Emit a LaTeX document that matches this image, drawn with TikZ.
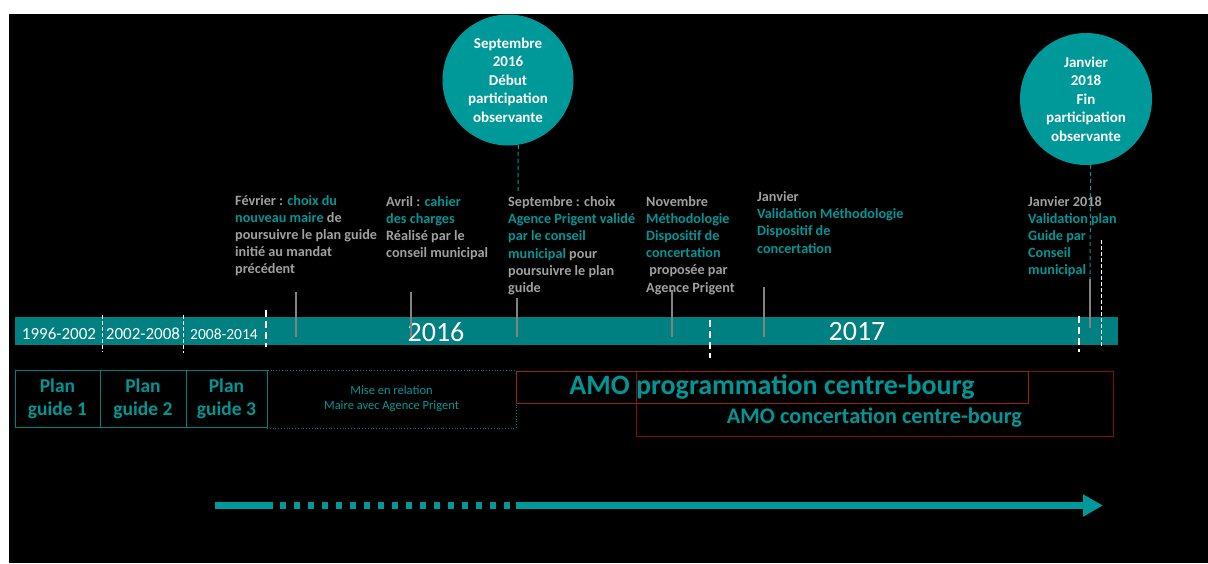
\documentclass[tikz,border=0pt]{standalone}
\usepackage{fontspec}
\setmainfont{Carlito}
\usepackage{xcolor}
\usetikzlibrary{arrows.meta}

\definecolor{barteal}{RGB}{0,128,128}
\definecolor{discteal}{RGB}{0,153,153}
\definecolor{tealtext}{RGB}{0,150,150}
\definecolor{greytext}{RGB}{160,160,160}
\definecolor{tickgrey}{RGB}{130,130,130}
\definecolor{amobrown}{RGB}{150,40,10}
\definecolor{amored}{RGB}{135,12,12}
\newcommand{\hl}[1]{\textcolor{tealtext}{#1}}

\begin{document}
\begin{tikzpicture}[x=1pt,y=-1pt,
  yearlbl/.style={anchor=base,inner sep=0pt,text=white,font=\fontsize{17}{20}\selectfont},
  septhin/.style={white,line width=1pt,dash pattern=on 4pt off 2pt},
  septhick/.style={white,line width=2.6pt,dash pattern=on 7pt off 4pt},
  tick/.style={tickgrey,line width=2pt},
  event/.style={anchor=base west,align=left,inner sep=0pt,text=greytext,font=\fontsize{14.2}{17.2}\selectfont\bfseries},
  disc/.style={circle,fill=discteal,text=white,align=center,inner sep=0pt,font=\fontsize{15}{18.6}\selectfont\bfseries},
  obsdash/.style={discteal,line width=1pt,dash pattern=on 4pt off 3pt},
  planbox/.style={draw=barteal,line width=1pt,text=tealtext,align=center,inner sep=0pt,minimum height=57pt,font=\fontsize{19.5}{23}\selectfont\bfseries},
  arrowline/.style={discteal,line width=7pt}]

% fond
\fill[white] (0,0) rectangle (1208,563);
\fill[black] (9,14) rectangle (1208,563);
\useasboundingbox (0,0) rectangle (1208,563);

% frise
\fill[barteal] (15,317) rectangle (1118,345);
\node[yearlbl] (p1996) at (59,339) {1996-2002};
\node[yearlbl] (p2002) at (143,339) {2002-2008};
\node[yearlbl,font=\fontsize{15.5}{18}\selectfont] (p2008) at (224,339) {2008-2014};
\node[yearlbl,font=\fontsize{28}{32}\selectfont] (y2016) at (436,341) {2016};
\node[yearlbl,font=\fontsize{28}{32}\selectfont] (y2017) at (857,340) {2017};

\draw[septhin] (102,315) -- (102,352);
\draw[septhin] (183,315) -- (183,353);
\draw[septhick] (266,310) -- (266,347);
\draw[septhick] (710,320) -- (710,358);
\draw[septhick] (1079,316) -- (1079,352);
\draw[septhin] (1101,240) -- (1101,347);

% jalons
\draw[tick] (296,292) -- (296,337);
\draw[tick] (411,292) -- (411,337);
\draw[tick] (517,298) -- (517,337);
\draw[tick] (672,290) -- (672,337);
\draw[tick] (764,287) -- (764,337);

% evenements (base = derniere ligne)
\node[event] (evfev) at (235,273.8) {F\'evrier : \hl{choix du}\\\hl{nouveau maire} de\\poursuivre le plan guide\\initi\'e au mandat\\pr\'ec\'edent};
\node[event] (evavr) at (386,257.6) {Avril : \hl{cahier}\\\hl{des charges}\\R\'ealis\'e par le\\conseil municipal};
\node[event] (evsep) at (508,292.5) {Septembre : choix\\\hl{Agence Prigent valid\'e}\\\hl{par le conseil}\\\hl{municipal} pour\\poursuivre le plan\\guide};
\node[event] (evnov) at (646,292) {Novembre\\\hl{M\'ethodologie}\\\hl{Dispositif de}\\\hl{concertation}\\\ propos\'ee par\\Agence Prigent};
\node[event] (evjan) at (757,253.1) {Janvier\\\hl{Validation M\'ethodologie}\\\hl{Dispositif de}\\\hl{concertation}};
\node[event] (evfin) at (1028,274.8) {Janvier 2018\\\hl{Validation plan}\\\hl{Guide par}\\\hl{Conseil}\\\hl{municipal}};

% participation observante
\node[disc,minimum size=131pt] (debut) at (508,80) {Septembre\\2016\\D\'ebut\\participation\\observante};
\node[disc,minimum size=132pt] (fin) at (1086,99) {Janvier\\2018\\Fin\\participation\\observante};
\coordinate (debutfoot) at (518,193);
\coordinate (finfoot) at (1090,279);
\draw[obsdash] (debut.-81) -- (debutfoot);
\draw[obsdash] (fin.-86) -- (finfoot);
\draw[tick] (finfoot) -- (1090,328);

% phases
\node[planbox,minimum width=85pt] (pg1) at (57.5,399) {Plan\\guide 1};
\node[planbox,minimum width=86pt] (pg2) at (143,399) {Plan\\guide 2};
\node[planbox,minimum width=81pt] (pg3) at (226.5,399) {Plan\\guide 3};
\node[draw=barteal,line width=0.8pt,dotted,minimum width=249pt,minimum height=58pt,inner sep=0pt,
  text=tealtext,align=center,font=\fontsize{12.5}{15}\selectfont] (relation) at (391.5,399) {Mise en relation\\Maire avec Agence Prigent};
\node[draw=amored,line width=1pt,minimum width=477pt,minimum height=65pt,inner sep=0pt] (concbox) at (874.5,403.5) {};
\node[inner sep=0pt,text=tealtext,font=\fontsize{22.3}{26}\selectfont\bfseries] (conc) at (874.5,417.5) {AMO concertation centre-bourg};
\node[draw=amobrown,line width=1pt,minimum width=512pt,minimum height=32pt,inner sep=0pt,
  text=tealtext,font=\fontsize{28}{32}\selectfont\bfseries] (prog) at (772,387) {AMO programmation centre-bourg};

% fleche du temps
\coordinate (a0) at (215,505.5);
\coordinate (a1) at (273,505.5);
\coordinate (a2) at (280,505.5);
\coordinate (a3) at (510,505.5);
\coordinate (a4) at (516,505.5);
\coordinate (a5) at (1103,505.5);
\draw[arrowline] (a0) -- (a1);
\draw[arrowline,dash pattern=on 6pt off 8pt] (a2) -- (a3);
\draw[arrowline,-{Triangle[length=20pt,width=21pt]}] (a4) -- (a5);
\end{tikzpicture}
\end{document}
